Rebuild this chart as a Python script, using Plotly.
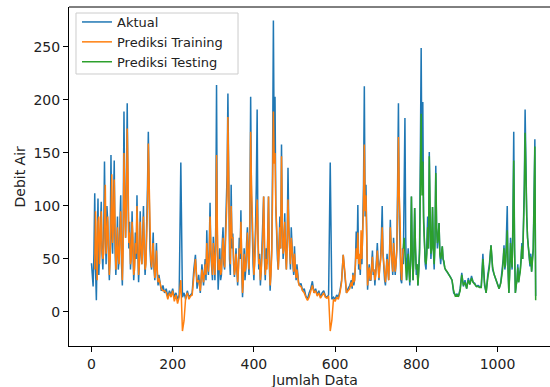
import plotly.graph_objects as go

# ---- Actual series (Aktual), read in segments: (start index, step, values)
actual_a = [  # 0..168 step 2
    46, 30, 24, 55, 112, 40, 11, 60, 107, 35, 60, 95, 104, 55, 40, 70, 142, 75, 45, 100,
    85, 50, 30, 65, 148, 70, 55, 100, 143, 60, 35, 60, 90, 40, 50, 85, 110, 45, 25, 80,
    189, 100, 70, 120, 197, 110, 60, 85, 40, 55, 95, 60, 30, 45, 75, 50, 110, 60, 28, 50,
    95, 55, 45, 70, 100, 55, 35, 50, 80, 120, 170, 90, 60, 45, 40, 55, 75, 40, 30, 45,
    65, 35, 25, 35, 30,
]
actual_b = [  # 172..276 step 4
    20, 25, 18, 22, 14, 20, 16, 22, 14, 18, 12, 16, 141, 14, 18, 12, 20, 14, 16, 18,
    40, 54, 22, 35, 18, 45, 25,
]
actual_c = [  # 280..510 step 2
    50, 30, 77, 45, 35, 60, 103, 55, 45, 30,
    71, 45, 30, 80, 214, 60, 21, 40, 60, 30,
    35, 65, 80, 45, 40, 75, 100, 130, 206, 90,
    50, 35, 120, 60, 74, 45, 33, 45, 60, 40,
    25, 45, 70, 50, 96, 40, 14, 35, 60, 30,
    40, 65, 80, 50, 35, 90, 203, 110, 60, 45,
    30, 50, 80, 120, 191, 70, 40, 55, 25, 40,
    60, 80, 109, 50, 30, 60, 45, 70, 109, 45,
    20, 40, 60, 140, 275, 150, 203, 100, 70, 50,
    40, 60, 90, 60, 158, 80, 50, 65, 93, 55,
    40, 70, 136, 80, 50, 40, 80, 55, 45, 35,
    62, 40, 30, 45, 33, 28,
]
actual_d = [  # 512..636 step 4
    25, 27, 20, 22, 15, 12, 18, 22, 29, 18, 22, 16, 20, 14, 18, 20, 15, 14, 16, 141,
    12, 14, 12, 16, 14, 20, 30, 54, 35, 18, 22, 25,
]
actual_e = [  # 640..870 step 2
    30, 22, 37, 25, 30, 45, 76, 50, 101, 40,
    50, 35, 60, 45, 80, 120, 213, 90, 120, 40,
    21, 35, 45, 30, 30, 45, 58, 35, 40, 25,
    35, 50, 65, 40, 30, 45, 50, 70, 100, 55,
    40, 30, 25, 40, 55, 40, 30, 55, 87, 60,
    45, 35, 70, 50, 35, 45, 60, 120, 197, 90,
    40, 30, 27, 60, 45, 110, 183, 70, 30, 45,
    60, 40, 25, 55, 109, 50, 30, 55, 98, 60,
    35, 45, 25, 40, 60, 150, 249, 120, 198, 90,
    60, 45, 40, 60, 90, 60, 151, 80, 50, 65,
    99, 60, 40, 70, 138, 80, 60, 70, 84, 55,
    45, 55, 62, 50, 45, 42,
]
actual_f = [  # 872..1004 step 4
    40, 38, 35, 33, 30, 18, 16, 17, 15, 22, 37, 24, 30, 22, 32, 26, 34, 28, 27, 24,
    25, 24, 24, 55, 25, 18, 35, 45, 63, 40, 35, 30, 26, 22,
]
actual_g = [  # 1008..1094 step 2
    28, 35, 40, 50, 63, 40, 45, 70, 100, 40,
    18, 40, 70, 50, 40, 90, 170, 60, 18, 25,
    30, 45, 28, 35, 40, 50, 65, 50, 80, 120,
    191, 110, 90, 70, 60, 50, 43, 55, 38, 50,
    60, 110, 163, 15,
]

# ---- Training prediction (Prediksi Training)
train_a = [  # 8..168 step 2
    40, 95, 60, 30, 85, 90, 45, 70, 95, 60,
    50, 55, 110, 120, 55, 70, 90, 60, 35, 50,
    120, 130, 65, 80, 125, 80, 40, 50, 80, 55,
    45, 70, 95, 60, 30, 60, 150, 110, 70, 100,
    173, 130, 65, 75, 45, 50, 85, 70, 35, 40,
    65, 55, 100, 70, 35, 45, 85, 65, 45, 60,
    90, 65, 40, 45, 70, 100, 159, 110, 70, 50,
    42, 50, 65, 45, 32, 40, 58, 40, 28, 32,
    28,
]
train_b = [  # 172..276 step 4
    22, 20, 20, 18, 12, 18, 14, 20, 10, 16, 8, 14, 30, -18, -8, 14, 18, 12, 15, 16,
    30, 50, 28, 30, 20, 40, 28,
]
train_c = [  # 280..510 step 2
    45, 35, 65, 50, 38, 50, 90, 60, 50, 35,
    65, 50, 35, 60, 148, 80, 40, 40, 50, 35,
    38, 55, 70, 50, 42, 65, 90, 110, 184, 110,
    70, 45, 100, 70, 70, 50, 35, 40, 55, 45,
    28, 40, 60, 55, 85, 50, 18, 30, 55, 38,
    42, 55, 75, 55, 40, 70, 170, 120, 90, 50,
    35, 45, 70, 90, 106, 75, 45, 50, 30, 38,
    55, 70, 109, 60, 35, 50, 40, 60, 109, 55,
    25, 35, 55, 110, 189, 140, 150, 100, 75, 55,
    40, 55, 80, 60, 147, 85, 55, 60, 85, 60,
    40, 60, 106, 80, 55, 45, 70, 55, 45, 38,
    55, 42, 32, 40, 30, 27,
]
train_d = [  # 512..636 step 4
    25, 24, 20, 18, 14, 11, 14, 20, 25, 18, 20, 15, 18, 13, 16, 18, 14, 13, 15, -18,
    -8, 12, 10, 14, 12, 18, 28, 54, 38, 18, 20, 22,
]
train_e = [  # 640..768 step 2
    28, 24, 35, 28, 30, 42, 60, 50, 75, 45,
    55, 40, 77, 50, 70, 100, 158, 95, 110, 45,
    25, 35, 42, 32, 30, 42, 52, 38, 40, 30,
    35, 45, 58, 42, 32, 42, 48, 60, 80, 55,
    42, 32, 28, 38, 50, 40, 30, 50, 80, 60,
    45, 38, 65, 50, 38, 45, 58, 100, 165, 110,
    90, 40, 30, 50, 60,
]

# ---- Testing prediction (Prediksi Testing)
test_e = [  # 768..870 step 2
    60, 70, 55, 45, 30, 40, 55, 40, 28, 50,
    109, 55, 30, 50, 98, 60, 40, 45, 25, 38,
    55, 120, 187, 110, 142, 85, 65, 48, 45, 55,
    80, 60, 147, 80, 55, 60, 99, 60, 45, 65,
    131, 80, 65, 70, 84, 55, 50, 55, 62, 50,
    48, 42,
]
test_f = [  # 872..1004 step 4
    40, 38, 35, 32, 30, 20, 15, 16, 15, 20, 35, 25, 28, 22, 30, 26, 32, 28, 26, 24,
    24, 23, 23, 50, 28, 18, 32, 42, 63, 42, 35, 30, 26, 22,
]
test_g = [  # 1008..1094 step 2
    27, 32, 38, 48, 60, 42, 48, 60, 77, 40,
    18, 35, 65, 50, 42, 80, 143, 60, 18, 25,
    30, 42, 28, 33, 38, 48, 62, 50, 78, 110,
    169, 105, 90, 70, 62, 50, 45, 52, 38, 48,
    58, 100, 156, 11,
]

x_ticks = [0, 200, 400, 600, 800, 1000]
y_ticks = [0, 50, 100, 150, 200, 250]


def build(segments):
    xs, ys = [], []
    for start, step, vals in segments:
        xs.extend(start + step * i for i in range(len(vals)))
        ys.extend(vals)
    return xs, ys


x_act, y_act = build([(0, 2, actual_a), (172, 4, actual_b), (280, 2, actual_c),
                      (512, 4, actual_d), (640, 2, actual_e), (872, 4, actual_f),
                      (1008, 2, actual_g)])
x_tr, y_tr = build([(8, 2, train_a), (172, 4, train_b), (280, 2, train_c),
                    (512, 4, train_d), (640, 2, train_e)])
x_te, y_te = build([(768, 2, test_e), (872, 4, test_f), (1008, 2, test_g)])

fig = go.Figure()
fig.add_trace(go.Scatter(x=x_act, y=y_act, mode="lines", name="Aktual",
                         line=dict(color="#1f77b4", width=1.5)))
fig.add_trace(go.Scatter(x=x_tr, y=y_tr, mode="lines", name="Prediksi Training",
                         line=dict(color="#ff7f0e", width=1.5)))
fig.add_trace(go.Scatter(x=x_te, y=y_te, mode="lines", name="Prediksi Testing",
                         line=dict(color="#2ca02c", width=1.5)))

font = dict(family="DejaVu Sans", size=14, color="#222222")
legend_font = dict(family="DejaVu Sans", size=13, color="#222222")

fig.update_layout(
    width=550, height=387,
    margin=dict(l=69, r=0, t=7, b=41, autoexpand=False),
    paper_bgcolor="white", plot_bgcolor="white",
    font=font,
    showlegend=True,
    legend=dict(x=0.0166, y=1.0, xanchor="left", yanchor="top",
                bgcolor="rgba(0,0,0,0)", borderwidth=0,
                font=legend_font, tracegroupgap=0, itemwidth=30),
    xaxis=dict(range=[-55.4, 1129.3], tickvals=x_ticks, ticks="outside", ticklen=5,
               tickcolor="black", showline=True, linecolor="black", linewidth=1,
               showgrid=False, zeroline=False, automargin=False, tickfont=font),
    yaxis=dict(range=[-32.1, 287.7], tickvals=y_ticks, ticks="outside", ticklen=5,
               tickcolor="black", showline=True, linecolor="black", linewidth=1,
               showgrid=False, zeroline=False, automargin=False, tickfont=font),
    annotations=[
        dict(text="Jumlah Data", xref="paper", yref="paper", x=0.5104, y=-0.100,
             xanchor="center", yanchor="middle", showarrow=False, font=font),
        dict(text="Debit Air", xref="paper", yref="paper", x=-0.1019, y=0.5,
             xanchor="center", yanchor="middle", textangle=-90, showarrow=False, font=font),
    ],
)
# top frame line
fig.add_shape(type="line", xref="paper", yref="paper", x0=0, x1=1, y0=1, y1=1,
              line=dict(color="black", width=1))
# legend frame (drawn over the data, under the legend entries)
fig.add_shape(type="rect", xref="paper", yref="paper", layer="above",
              x0=0.01455, x1=0.3514, y0=0.8024, y1=0.9823,
              fillcolor="rgba(255,255,255,0.8)", line=dict(color="#cccccc", width=1))

fig.write_html("out.html", post_script="document.body.style.margin='0';",
               config={"displayModeBar": False})
